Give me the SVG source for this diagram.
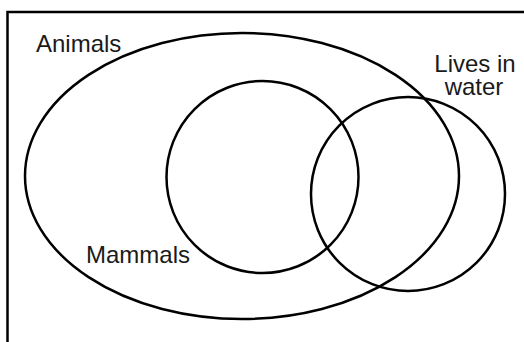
<svg xmlns="http://www.w3.org/2000/svg" width="524" height="342" viewBox="0 0 524 342">
<style>
.shape{fill:none;stroke:#000;stroke-width:2.5}
.lbl{font-family:"Liberation Sans",Arial,sans-serif;font-size:24px;fill:#1a1a1a}
</style>
<rect x="0" y="0" width="524" height="342" fill="#fff"/>
<g id="frame"><rect class="shape" x="7.5" y="12" width="540" height="360" stroke-width="2.2"/></g>
<g id="animals">
<ellipse class="shape" cx="242" cy="176" rx="217" ry="143"/>
<text class="lbl" x="36" y="52">Animals</text>
</g>
<g id="mammals">
<circle class="shape" cx="262.5" cy="177" r="96"/>
<text class="lbl" x="86" y="263">Mammals</text>
</g>
<g id="water">
<circle class="shape" cx="408" cy="194" r="97"/>
<text class="lbl" text-anchor="middle" x="475" y="72">Lives in</text>
<text class="lbl" text-anchor="middle" x="474" y="95">water</text>
</g>
<g id="connectors"></g>
</svg>
